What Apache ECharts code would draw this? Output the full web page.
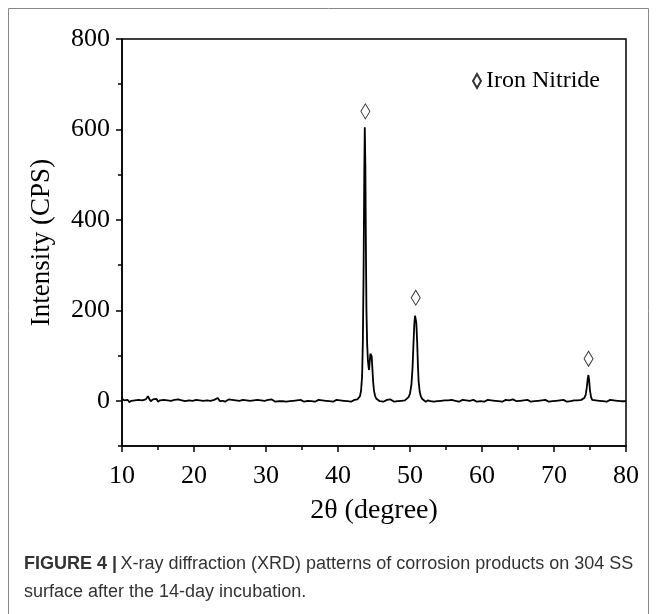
<!DOCTYPE html>
<html>
<head>
<meta charset="utf-8">
<script src="https://cdn.jsdelivr.net/npm/echarts@6/dist/echarts.min.js"></script>
<style>
html,body{margin:0;padding:0;background:#fff;}
#chart{width:657px;height:614px;}
</style>
</head>
<body>
<div id="chart"></div>
<script>
// XRD pattern: [2theta (degree), intensity (CPS)]
const pattern = [
  [10,5],[10.3,1],[10.5,-2],[10.8,2],[11,-3],[11.3,0],[11.5,-2],[11.8,1],[12,-3],[12.3,2],
  [12.5,-1],[12.8,1],[13,-2],[13.3,3],[13.6,10],[13.8,4],[14,-1],[14.3,3],[14.5,0],[14.8,4],
  [15,-2],[15.3,1],[15.5,-3],[15.8,2],[16,-1],[16.3,1],[16.5,-3],[16.8,0],[17,-2],[17.3,2],
  [17.5,0],[17.8,3],[18,5],[18.3,1],[18.5,4],[18.8,-1],[19,-3],[19.3,1],[19.5,-2],[19.8,0],
  [20,-3],[20.3,2],[20.5,-1],[20.8,1],[21,-3],[21.3,0],[21.5,-2],[21.8,1],[22,-3],[22.3,0],
  [22.5,-1],[22.8,2],[23,-1],[23.3,6],[23.6,-1],[23.8,-3],[24,0],[24.3,-2],[24.5,1],[24.8,3],
  [25,0],[25.3,2],[25.5,-1],[25.8,1],[26,-2],[26.3,0],[26.5,-1],[26.8,2],[27,0],[27.3,1],
  [27.5,4],[27.8,0],[28,-2],[28.3,1],[28.5,-2],[28.8,2],[29,-1],[29.3,1],[29.5,-2],[29.8,0],
  [30,-3],[30.3,2],[30.5,0],[30.8,3],[31,1],[31.3,-2],[31.5,1],[31.8,-1],[32,2],[32.3,-1],
  [32.5,0],[32.8,-2],[33,1],[33.3,-1],[33.5,2],[33.8,0],[34,-2],[34.3,1],[34.5,-1],[34.8,2],
  [35,0],[35.3,-2],[35.5,1],[35.8,0],[36,2],[36.3,-1],[36.5,1],[36.8,-2],[37,0],[37.3,2],
  [37.5,-1],[37.8,1],[38,-2],[38.3,0],[38.5,2],[38.8,-1],[39,1],[39.3,-2],[39.5,0],[39.8,2],
  [40,-1],[40.3,1],[40.5,-2],[40.8,0],[41,2],[41.3,-1],[41.5,1],[41.8,-2],[42,0],[42.3,2],
  [42.5,1],[42.7,3],[42.9,5],[43.05,10],[43.2,22],[43.35,55],[43.45,130],[43.55,280],[43.65,500],
  [43.72,605],[43.8,520],[43.88,330],[43.95,200],[44.05,125],[44.15,90],[44.25,74],[44.32,68],
  [44.4,86],[44.5,104],[44.58,108],[44.68,98],[44.78,70],[44.88,42],[45.0,22],[45.15,11],
  [45.3,5],[45.5,2],[45.8,-1],[46,1],[46.3,-2],[46.5,0],[46.8,2],[47,-1],[47.3,3],[47.5,0],
  [47.8,-2],[48,1],[48.3,-1],[48.5,2],[48.8,0],[49,3],[49.3,1],[49.5,4],[49.8,8],[50.0,16],
  [50.2,36],[50.35,72],[50.5,132],[50.6,170],[50.7,188],[50.78,191],[50.88,172],[51.0,128],
  [51.1,78],[51.2,42],[51.35,20],[51.5,10],[51.7,4],[51.9,1],[52.2,-2],[52.5,1],[52.8,-1],
  [53,2],[53.3,-2],[53.5,0],[53.8,-1],[54,2],[54.3,0],[54.5,4],[54.8,1],[55,-2],[55.3,1],
  [55.5,-1],[55.8,2],[56,-2],[56.3,0],[56.5,1],[56.8,-2],[57,0],[57.3,2],[57.5,-1],[57.8,1],
  [58,-2],[58.3,0],[58.5,-1],[58.8,2],[59,0],[59.3,-2],[59.5,1],[59.8,-1],[60,1],[60.3,-2],
  [60.5,0],[60.8,2],[61,-1],[61.3,1],[61.5,-2],[61.8,0],[62,2],[62.3,-1],[62.5,1],[62.8,-2],
  [63,0],[63.3,2],[63.5,-1],[63.8,1],[64,-2],[64.3,3],[64.5,1],[64.8,-1],[65,2],[65.3,0],
  [65.5,-2],[65.8,1],[66,-1],[66.3,2],[66.5,0],[66.8,-2],[67,1],[67.3,-1],[67.5,2],[67.8,0],
  [68,-2],[68.3,1],[68.5,-1],[68.8,2],[69,0],[69.3,-2],[69.5,1],[69.8,-1],[70,2],[70.3,0],
  [70.5,-2],[70.8,1],[71,-1],[71.3,2],[71.5,0],[71.8,-2],[72,1],[72.3,-1],[72.5,2],[72.8,1],
  [73,3],[73.3,1],[73.5,4],[73.8,2],[74.0,3],[74.2,6],[74.4,13],[74.55,29],[74.68,48],
  [74.78,57],[74.88,45],[75.0,22],[75.15,8],[75.3,2],[75.5,-1],[75.8,1],[76,-2],[76.3,0],
  [76.5,2],[76.8,-1],[77,1],[77.3,-2],[77.5,0],[77.8,2],[78,-1],[78.3,1],[78.5,-2],[78.8,0],
  [79,2],[79.3,-1],[79.5,1],[79.8,-1],[80,0]
];
// diamond markers above the Iron Nitride peaks
const peakMarkers = [[43.8,640],[50.8,228],[74.8,93]];
const xTicks = [10,20,30,40,50,60,70,80];
const yLabelValues = [0,200,400,600,800];
const yMinorValues = [-100,100,300,500,700];

const serif = '"Liberation Serif","Times New Roman",serif';
const sans = '"Liberation Sans",Arial,sans-serif';
const chart = echarts.init(document.getElementById('chart'), null, {renderer:'canvas'});
chart.setOption({
  animation:false,
  backgroundColor:'#fff',
  grid:{left:122,right:31,top:39,bottom:168,show:true,borderColor:'#000',borderWidth:1.5,containLabel:false},
  legend:{
    data:['Iron Nitride'],left:467,top:64,itemWidth:8,itemHeight:14,itemGap:6,
    textStyle:{fontFamily:serif,fontSize:24,color:'#000'}
  },
  xAxis:{
    type:'value',min:10,max:80,interval:10,
    name:'2θ (degree)',nameLocation:'middle',nameGap:51,
    nameTextStyle:{fontFamily:serif,fontSize:28,color:'#000'},
    axisLine:{show:true,onZero:false,lineStyle:{color:'#000',width:1.5}},
    axisTick:{show:true,inside:false,length:6,lineStyle:{color:'#000',width:1.5}},
    minorTick:{show:true,splitNumber:2,length:4,lineStyle:{color:'#000',width:1.5}},
    splitLine:{show:false},
    axisLabel:{fontFamily:serif,fontSize:26,color:'#000',margin:17,customValues:xTicks}
  },
  yAxis:[{
    type:'value',min:-100,max:800,interval:100,position:'left',
    name:'Intensity (CPS)',nameLocation:'middle',nameGap:67,nameRotate:90,
    nameTextStyle:{fontFamily:serif,fontSize:27,color:'#000'},
    axisLine:{show:true,onZero:false,lineStyle:{color:'#000',width:1.5}},
    axisTick:{show:true,length:6,lineStyle:{color:'#000',width:1.5},customValues:yLabelValues},
    splitLine:{show:false},
    axisLabel:{fontFamily:serif,fontSize:26,color:'#000',margin:12,customValues:yLabelValues}
  },{
    type:'value',min:-100,max:800,interval:100,position:'left',
    axisLine:{show:false,onZero:false},
    axisTick:{show:true,length:4,lineStyle:{color:'#000',width:1.5},customValues:yMinorValues},
    axisLabel:{show:false},
    splitLine:{show:false}
  }],
  series:[{
    type:'line',data:pattern,showSymbol:false,symbol:'none',
    lineStyle:{color:'#000',width:1.8},z:3
  },{
    name:'Iron Nitride',type:'scatter',data:peakMarkers,symbol:'diamond',symbolSize:[9,15],
    itemStyle:{color:'#fff',borderColor:'#000',borderWidth:1},z:4
  }],
  graphic:[
    {type:'rect',shape:{x:8.5,y:8.5,width:640,height:620},style:{fill:null,stroke:'#888',lineWidth:1},silent:true,z:-1},
    {type:'text',left:24,top:555,style:{
      text:'{b|FIGURE 4 |} {r|X-ray diffraction (XRD) patterns of corrosion products on 304 SS}',
      rich:{
        b:{fontFamily:sans,fontWeight:'bold',fontSize:18,fill:'#333'},
        r:{fontFamily:sans,fontSize:18,fill:'#333'}
      }
    }},
    {type:'text',left:24,top:583,style:{
      text:'surface after the 14-day incubation.',
      fontFamily:sans,fontSize:18,fill:'#333'
    }}
  ]
});
</script>
</body>
</html>
